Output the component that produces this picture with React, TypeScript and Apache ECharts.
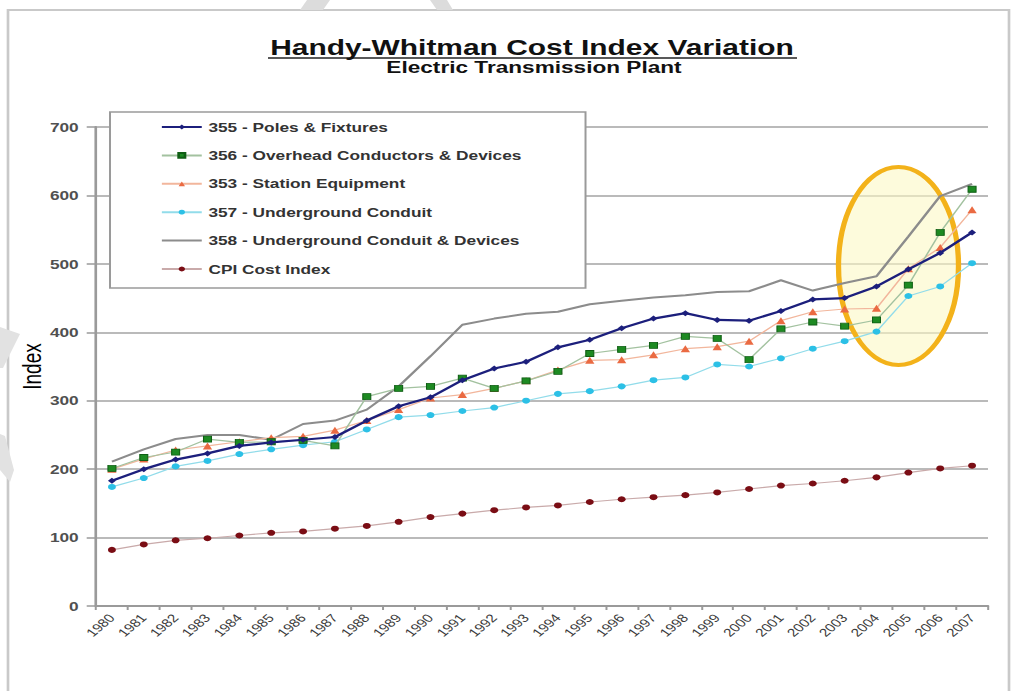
import React, { useEffect, useRef } from "react";
import * as echarts from "echarts";

// The reference picture is stretched horizontally; the chart is drawn in a narrower
// box and stretched with CSS so text and marks get the same proportions.
const S = 1.33;
const W = 1013 / S;
const H = 691;
const X = (px: number) => px / S;

const FONT = "'Liberation Sans', Arial, Helvetica, sans-serif";

const years = [
  "1980", "1981", "1982", "1983", "1984", "1985", "1986", "1987", "1988", "1989",
  "1990", "1991", "1992", "1993", "1994", "1995", "1996", "1997", "1998", "1999",
  "2000", "2001", "2002", "2003", "2004", "2005", "2006", "2007",
];

const poles355 = [183, 200, 214, 223, 234, 239, 243, 247, 271, 292, 305, 330, 347, 357, 378, 389, 406, 420, 428, 418, 417, 431, 448, 450, 467, 492, 516, 546];
const overhead356 = [201, 217, 225, 244, 239, 240, 242, 234, 306, 318, 321, 333, 318, 329, 343, 369, 375, 381, 394, 391, 360, 405, 415, 409, 418, 469, 546, 609];
const station353 = [200, 215, 228, 234, 240, 246, 248, 257, 271, 287, 304, 309, 318, 329, 345, 359, 360, 367, 376, 379, 387, 417, 430, 434, 435, 493, 524, 579];
const conduit357 = [174, 187, 204, 212, 222, 229, 235, 240, 258, 276, 279, 285, 290, 300, 310, 314, 321, 330, 334, 353, 350, 362, 376, 387, 401, 453, 467, 501];
const conduitDev358 = [211, 229, 244, 250, 250, 243, 266, 271, 287, 321, 365, 411, 420, 427, 430, 441, 446, 451, 454, 459, 460, 476, 461, 472, 482, 540, 599, 617];
const cpi = [82, 90, 96, 99, 103, 107, 109, 113, 117, 123, 130, 135, 140, 144, 147, 152, 156, 159, 162, 166, 171, 176, 179, 183, 188, 195, 201, 205];

const seriesNames = [
  "355 - Poles & Fixtures",
  "356 - Overhead Conductors & Devices",
  "353 - Station Equipment",
  "357 - Underground Conduit",
  "358 - Underground Conduit & Devices",
  "CPI Cost Index",
];

const titleText = "Handy-Whitman Cost Index Variation";
const subtitleText = "Electric Transmission Plant";
const yAxisName = "Index";

export default function App() {
  const ref = useRef<HTMLDivElement>(null);

  useEffect(() => {
    if (!ref.current) return;
    const chart = echarts.init(ref.current, null, { renderer: "svg", width: W, height: H });

    const gridLeft = X(96);
    const gridRight = W - X(988);

    chart.setOption({
      animation: false,
      backgroundColor: "#ffffff",
      title: [
        {
          text: titleText,
          left: X(532),
          top: 36,
          textAlign: "center",
          padding: 0,
          textStyle: { fontFamily: FONT, fontSize: 22.5, fontWeight: "bold", color: "#111" },
        },
        {
          text: subtitleText,
          left: X(534),
          top: 59,
          textAlign: "center",
          padding: 0,
          textStyle: { fontFamily: FONT, fontSize: 17, fontWeight: "bold", color: "#111" },
        },
      ],
      legend: {
        orient: "vertical",
        left: X(110),
        top: 112,
        padding: [8.5, 48, 12.5, 38],
        itemGap: 15.4,
        itemWidth: 30,
        itemHeight: 6,
        backgroundColor: "#ffffff",
        borderColor: "#9a9a9a",
        borderWidth: 1.5,
        borderRadius: 0,
        data: seriesNames.map((name, i) =>
          i === 4 ? { name, itemStyle: { opacity: 0 } } : { name }
        ),
        textStyle: { fontFamily: FONT, fontSize: 13, fontWeight: "bold", color: "#333" },
      },
      grid: { left: gridLeft, right: gridRight, top: 127, bottom: 85 },
      xAxis: {
        type: "category",
        data: years,
        boundaryGap: true,
        axisLine: { lineStyle: { color: "#9a9a9a", width: 2 } },
        axisTick: { show: true, length: 4, lineStyle: { color: "#9a9a9a", width: 1.5 } },
        axisLabel: {
          rotate: 48,
          margin: 10,
          interval: 0,
          fontFamily: FONT,
          fontSize: 11.5,
          color: "#3a3a3a",
        },
      },
      yAxis: {
        type: "value",
        min: 0,
        max: 700,
        interval: 100,
        name: yAxisName,
        nameLocation: "middle",
        nameGap: 38,
        nameMoveOverlap: false,
        nameTextStyle: { fontFamily: FONT, fontSize: 19, color: "#000" },
        axisLine: { show: true, lineStyle: { color: "#9a9a9a", width: 2 } },
        axisTick: { show: true, length: 7, lineStyle: { color: "#9a9a9a", width: 1.5 } },
        axisLabel: {
          margin: 13,
          fontFamily: FONT,
          fontSize: 13,
          fontWeight: "bold",
          color: "#505050",
        },
        splitLine: { show: true, lineStyle: { color: "#a3a3a3", width: 1.6 } },
      },
      graphic: [
        {
          type: "rect",
          z: 0,
          shape: { x: X(8), y: 10, width: X(1001), height: 700 },
          style: { fill: "none", stroke: "#c9c9c9", lineWidth: 2 },
          silent: true,
        },
        {
          type: "polygon",
          z: 0,
          shape: { points: [[X(307), 0], [X(330), 0], [X(323), 10], [X(300), 10]] },
          style: { fill: "#dcdcdc" },
          silent: true,
        },
        {
          type: "polygon",
          z: 0,
          shape: { points: [[X(430), 0], [X(447), 0], [X(453), 10], [X(437), 10]] },
          style: { fill: "#dcdcdc" },
          silent: true,
        },
        {
          type: "polygon",
          z: 0,
          shape: { points: [[0, 327], [X(20), 334], [X(3), 368], [0, 368]] },
          style: { fill: "#e2e2e2" },
          silent: true,
        },
        {
          type: "polygon",
          z: 0,
          shape: { points: [[0, 434], [X(5), 436], [X(14), 470], [X(10), 482], [0, 470]] },
          style: { fill: "#e2e2e2" },
          silent: true,
        },
        {
          type: "line",
          z: 5,
          shape: { x1: X(268), y1: 58, x2: X(797), y2: 58 },
          style: { stroke: "#222", lineWidth: 1.6 },
          silent: true,
        },
        {
          type: "ellipse",
          z: 1,
          shape: { cx: X(898.5), cy: 266, rx: X(60), ry: 99 },
          style: { fill: "rgba(252,248,196,0.6)", stroke: "#f3b21a", lineWidth: 4 },
          silent: true,
        },
      ],
      series: [
        {
          name: seriesNames[0],
          type: "line",
          data: poles355,
          symbol: "diamond",
          symbolSize: 6,
          lineStyle: { color: "#1c1f7c", width: 2.2 },
          itemStyle: { color: "#1c1f7c" },
          z: 7,
        },
        {
          name: seriesNames[1],
          type: "line",
          data: overhead356,
          symbol: "rect",
          symbolSize: 6,
          lineStyle: { color: "#a3c2a0", width: 1.2 },
          itemStyle: { color: "#1d8a22", borderColor: "#0f5e14", borderWidth: 0.8 },
          z: 5,
        },
        {
          name: seriesNames[2],
          type: "line",
          data: station353,
          symbol: "triangle",
          symbolSize: 7,
          lineStyle: { color: "#f2b69c", width: 1.2 },
          itemStyle: { color: "#ea6a42" },
          z: 4,
        },
        {
          name: seriesNames[3],
          type: "line",
          data: conduit357,
          symbol: "circle",
          symbolSize: 6,
          lineStyle: { color: "#92dcea", width: 1.2 },
          itemStyle: { color: "#2cc0e6" },
          z: 3,
        },
        {
          name: seriesNames[4],
          type: "line",
          data: conduitDev358,
          symbol: "none",
          lineStyle: { color: "#8c8c8c", width: 2 },
          itemStyle: { color: "#8c8c8c" },
          z: 2,
        },
        {
          name: seriesNames[5],
          type: "line",
          data: cpi,
          symbol: "circle",
          symbolSize: 6,
          lineStyle: { color: "#c9aaaa", width: 1.2 },
          itemStyle: { color: "#7a0d14" },
          z: 3,
        },
      ],
    });

    return () => chart.dispose();
  }, []);

  return (
    <div
      ref={ref}
      style={{
        position: "fixed",
        left: 0,
        top: 0,
        width: W,
        height: H,
        transform: `scaleX(${S})`,
        transformOrigin: "0 0",
        background: "#fff",
      }}
    />
  );
}
